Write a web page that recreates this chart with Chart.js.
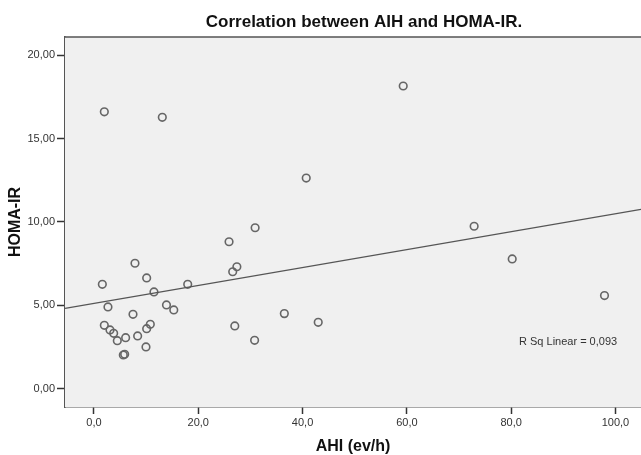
<!DOCTYPE html>
<html>
<head>
<meta charset="utf-8">
<script src="https://cdn.jsdelivr.net/npm/chart.js@4"></script>
<style>
    html, body { margin: 0; padding: 0; background: #fff; }
    #wrap { width: 641px; height: 455px; }
</style>
</head>
<body>
<div id="wrap"><canvas id="scatterChart"></canvas></div>
<script>
// AHI (ev/h) per patient
const ahi = [1.98, 13.1, 59.3, 40.7, 30.9, 1.6, 2.68, 1.98, 3.07, 3.77, 4.47, 6.07,
    5.62, 5.88, 7.48, 7.86, 8.37, 10.1, 11.5, 10.1, 10.8, 9.97, 13.9, 15.3, 17.97,
    25.9, 26.6, 27.4, 27.0, 30.8, 36.5, 43.0, 72.9, 80.2, 97.9];
// HOMA-IR per patient
const homa = [16.6, 16.27, 18.15, 12.63, 9.65, 6.26, 4.9, 3.8, 3.52, 3.32, 2.88, 3.06,
    2.02, 2.06, 4.46, 7.52, 3.16, 6.64, 5.8, 3.6, 3.86, 2.5, 5.02, 4.72, 6.26,
    8.81, 7.01, 7.31, 3.76, 2.9, 4.5, 3.98, 9.74, 7.78, 5.58];

// linear fit line, end points
const fitX = [-5.56, 104.9];
const fitY = [4.82, 10.75];

const xTicks = [0, 20, 40, 60, 80, 100];
const xTickLabels = ['0,0', '20,0', '40,0', '60,0', '80,0', '100,0'];
const yTicks = [0, 5, 10, 15, 20];
const yTickLabels = ['0,00', '5,00', '10,00', '15,00', '20,00'];

const xRange = [-5.56, 104.9];
const yRange = [-1.1, 21.09];

const titleText = 'Correlation between AIH and HOMA-IR.';
const rsqText = 'R Sq Linear = 0,093';

// plot background, top border, title and R² note
const decorations = {
    id: 'decorations',
    beforeDatasetsDraw(chart) {
        const { ctx, chartArea: a } = chart;
        ctx.save();
        ctx.fillStyle = '#f0f0f0';
        ctx.fillRect(a.left, a.top, a.right - a.left, a.bottom - a.top);
        ctx.strokeStyle = '#555';
        ctx.lineWidth = 1.5;
        ctx.beginPath();
        ctx.moveTo(a.left, a.top);
        ctx.lineTo(a.right, a.top);
        ctx.stroke();
        ctx.restore();
    },
    afterDraw(chart) {
        const { ctx, chartArea: a } = chart;
        ctx.save();
        ctx.fillStyle = '#111';
        ctx.font = 'bold 17px "Liberation Sans", Arial, sans-serif';
        ctx.textAlign = 'center';
        ctx.textBaseline = 'middle';
        ctx.fillText(titleText, 364, 22);

        ctx.fillStyle = '#333';
        ctx.font = '11px "Liberation Sans", Arial, sans-serif';
        ctx.textAlign = 'left';
        ctx.fillText(rsqText, a.right - 122, a.top + 305);
        ctx.restore();
    }
};

const ctx = document.getElementById('scatterChart').getContext('2d');
new Chart(ctx, {
    type: 'scatter',
    data: {
        datasets: [{
            type: 'line',
            data: fitX.map((x, i) => ({ x: x, y: fitY[i] })),
            borderColor: '#555',
            borderWidth: 1.3,
            pointRadius: 0,
            fill: false
        }, {
            data: ahi.map((x, i) => ({ x: x, y: homa[i] })),
            pointRadius: 3.8,
            pointBorderWidth: 1.6,
            pointBorderColor: '#666',
            pointBackgroundColor: 'rgba(0,0,0,0)'
        }]
    },
    options: {
        responsive: true,
        maintainAspectRatio: false,
        animation: false,
        layout: {
            autoPadding: false,
            padding: { top: 37, left: 0, right: 0, bottom: 0 }
        },
        plugins: {
            legend: { display: false },
            tooltip: { enabled: false }
        },
        scales: {
            x: {
                type: 'linear',
                min: xRange[0],
                max: xRange[1],
                afterBuildTicks: (scale) => {
                    scale.ticks = xTicks.map(v => ({ value: v }));
                },
                afterFit: (scale) => {
                    scale.height = 48;
                    scale.paddingLeft = 0;
                    scale.paddingRight = 0;
                },
                ticks: {
                    color: '#333',
                    padding: 2,
                    maxRotation: 0,
                    font: { family: '"Liberation Sans", Arial, sans-serif', size: 11 },
                    callback: (value, index) => xTickLabels[index]
                },
                grid: {
                    drawOnChartArea: false,
                    drawTicks: true,
                    tickLength: 7,
                    color: '#333',
                    tickWidth: 1.5
                },
                border: { color: '#555', width: 1.5 },
                title: {
                    display: true,
                    text: 'AHI (ev/h)',
                    color: '#111',
                    font: { family: '"Liberation Sans", Arial, sans-serif', size: 16, weight: 'bold', lineHeight: 1 },
                    padding: { top: 0, bottom: 0 }
                }
            },
            y: {
                type: 'linear',
                min: yRange[0],
                max: yRange[1],
                afterBuildTicks: (scale) => {
                    scale.ticks = yTicks.map(v => ({ value: v }));
                },
                afterFit: (scale) => {
                    scale.width = 65;
                    scale.paddingTop = 0;
                    scale.paddingBottom = 0;
                },
                ticks: {
                    color: '#333',
                    padding: 2,
                    font: { family: '"Liberation Sans", Arial, sans-serif', size: 11 },
                    callback: (value, index) => yTickLabels[index]
                },
                grid: {
                    drawOnChartArea: false,
                    drawTicks: true,
                    tickLength: 8,
                    color: '#333',
                    tickWidth: 1.5
                },
                border: { color: '#555', width: 1.5 },
                title: {
                    display: true,
                    text: 'HOMA-IR',
                    color: '#111',
                    font: { family: '"Liberation Sans", Arial, sans-serif', size: 16, weight: 'bold', lineHeight: 1 },
                    padding: { top: 8, bottom: 0 }
                }
            }
        }
    },
    plugins: [decorations]
});
</script>
</body>
</html>
